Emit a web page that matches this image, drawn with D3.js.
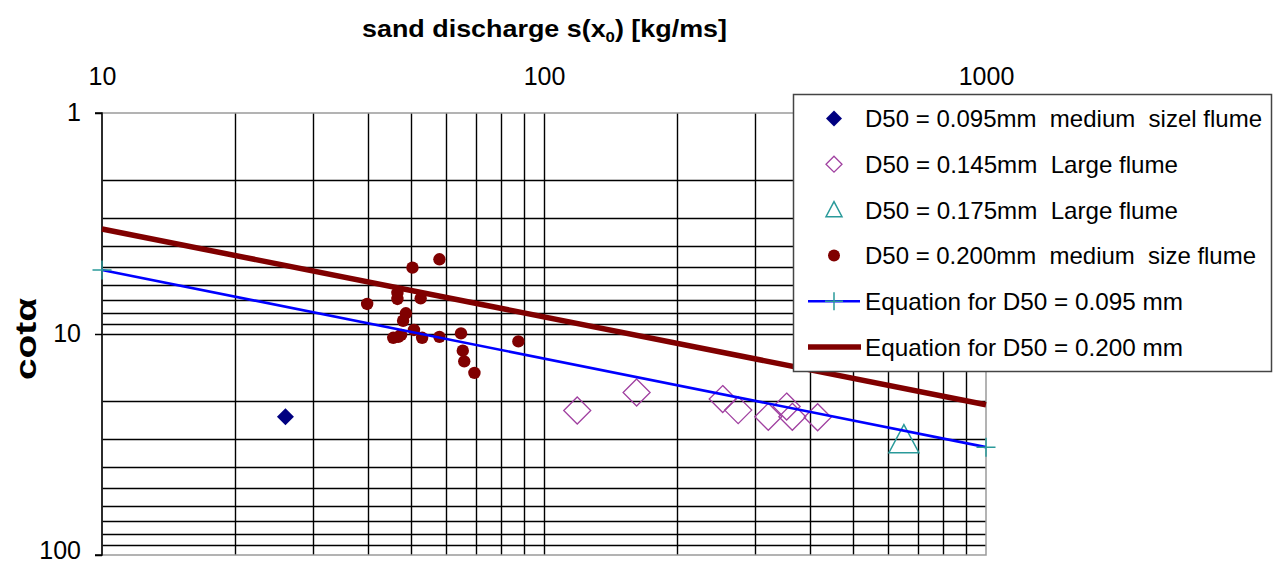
<!DOCTYPE html>
<html>
<head>
<meta charset="utf-8">
<script src="https://cdn.jsdelivr.net/npm/d3@7"></script>
<style>
  html, body { margin: 0; padding: 0; background: #fff; }
  svg { display: block; font-family: "Liberation Sans", Arial, sans-serif; }
</style>
</head>
<body>
<svg id="chart" width="1273" height="566"></svg>
<script>
// Sand discharge s(x0) [kg/ms] vs cot(alpha), log-log
const s095 = [26];
const cot095 = [23.7];

const s145 = [118.9, 162, 253.7, 275, 321.7, 354, 364.6, 416];
const cot145 = [22.2, 18.4, 19.7, 22.1, 23.7, 21.3, 23.7, 23.8];

const s175 = [652];
const cot175 = [30.2];

const s200 = [58.0, 50.4, 46.6, 46.6, 52.6, 39.8, 48.7, 48.0, 45.6, 47.5, 46.8, 50.8, 53.0, 58.0, 64.9, 65.5, 66.0, 69.6, 87.5];
const cot200 = [4.59, 5.01, 6.52, 6.94, 6.90, 7.31, 8.06, 8.71, 10.4, 10.1, 10.3, 9.59, 10.4, 10.3, 9.93, 11.9, 13.3, 15.0, 10.8];

// Equation lines, evaluated at the ends of the discharge range
const eqS = [10, 1000];
const eq095 = [5.13, 32.5];
const eq200 = [3.35, 20.9];

const xTicks = [10, 100, 1000];
const yTicks = [1, 10, 100];

const legendLabels = [
  "D50 = 0.095mm  medium  sizel flume",
  "D50 = 0.145mm  Large flume",
  "D50 = 0.175mm  Large flume",
  "D50 = 0.200mm  medium  size flume",
  "Equation for D50 = 0.095 mm",
  "Equation for D50 = 0.200 mm"
];

const C = {
  navy: "#000080",
  plum: "#A040A0",
  teal: "#2A9A9A",
  maroon: "#800000",
  blue: "#0000FF"
};

const svg = d3.select("#chart");
const L = 102, R = 986, T = 113, B = 555;

const x = d3.scaleLog().domain([10, 1000]).range([L, R]);
const y = d3.scaleLog().domain([1, 100]).range([T, B]);

const zip = (a, b) => a.map((v, i) => [v, b[i]]);

// Grid lines at every 1..9 multiple of each decade
const xGrid = [];
for (let d = 10; d < 1000; d *= 10) for (let k = 1; k <= 9; k++) xGrid.push(d * k);
xGrid.push(1000);
const yGrid = [];
for (let d = 1; d < 100; d *= 10) for (let k = 1; k <= 9; k++) yGrid.push(d * k);
yGrid.push(100);

const grid = svg.append("g");
grid.selectAll("line.v").data(xGrid.filter(v => v > 10 && v < 1000)).join("line")
  .attr("x1", d => Math.round(x(d)) + 0.5).attr("x2", d => Math.round(x(d)) + 0.5)
  .attr("y1", T).attr("y2", B)
  .attr("stroke", "#000").attr("stroke-width", 1.4);
grid.selectAll("line.h").data(yGrid.filter(v => v > 1 && v < 100)).join("line")
  .attr("y1", d => Math.round(y(d)) + 0.5).attr("y2", d => Math.round(y(d)) + 0.5)
  .attr("x1", L).attr("x2", R)
  .attr("stroke", "#000").attr("stroke-width", 1.4);

// Plot area frame (grey) and y axis (black)
svg.append("rect").attr("x", L).attr("y", T).attr("width", R - L).attr("height", B - T)
  .attr("fill", "none").attr("stroke", "#9a9a9a").attr("stroke-width", 1.5);

const yAxis = d3.axisLeft(y).tickValues(yTicks).tickFormat(d3.format("d")).tickSize(7).tickPadding(14);
const gy = svg.append("g").attr("transform", `translate(${L},0)`).call(yAxis);
gy.select(".domain").attr("stroke", "#000").attr("stroke-width", 1.5).attr("d", `M-7,${T}H0V${B}H-7`);
gy.selectAll(".tick line").attr("stroke", "#000").attr("stroke-width", 1.5);
gy.selectAll(".tick text").attr("font-size", 25).attr("fill", "#000")
  .attr("font-family", "Liberation Sans, Arial, sans-serif")
  .attr("dy", d => d === 100 ? "0.14em" : "0.3em");

const xAxis = d3.axisTop(x).tickValues(xTicks).tickFormat(d3.format("d")).tickSize(0).tickPadding(28);
const gx = svg.append("g").attr("transform", `translate(0,${T})`).call(xAxis);
gx.select(".domain").remove();
gx.selectAll(".tick text").attr("font-size", 25).attr("fill", "#000")
  .attr("font-family", "Liberation Sans, Arial, sans-serif");

// Axis titles
const title = svg.append("text").attr("x", 362).attr("y", 37)
  .attr("font-size", 24).attr("font-weight", "bold")
  .attr("textLength", 365).attr("lengthAdjust", "spacingAndGlyphs");
title.append("tspan").text("sand discharge s(x");
title.append("tspan").text("0").attr("font-size", 15).attr("dy", 5);
title.append("tspan").text(") [kg/ms]").attr("dy", -5);

svg.append("text").attr("transform", "translate(36,339) rotate(-90)")
  .attr("text-anchor", "middle").attr("font-size", 29).attr("font-weight", "bold")
  .attr("textLength", 82).attr("lengthAdjust", "spacingAndGlyphs")
  .text("cotα");

// Symbols
const diamond = (cx, cy, h) => `M${cx},${cy - h}L${cx + h},${cy}L${cx},${cy + h}L${cx - h},${cy}Z`;
const triangle = (cx, cy, w, h) => `M${cx},${cy - h * 0.55}L${cx + w / 2},${cy + h * 0.45}L${cx - w / 2},${cy + h * 0.45}Z`;
const plus = (cx, cy, h) => `M${cx - h},${cy}H${cx + h}M${cx},${cy - h}V${cy + h}`;

const marks = svg.append("g");

marks.selectAll("path.s095").data(zip(s095, cot095)).join("path")
  .attr("d", d => diamond(x(d[0]), y(d[1]), 8.5)).attr("fill", C.navy);

marks.selectAll("path.s145").data(zip(s145, cot145)).join("path")
  .attr("d", d => diamond(x(d[0]), y(d[1]), 13.5))
  .attr("fill", "none").attr("stroke", C.plum).attr("stroke-width", 1.3);

marks.selectAll("path.s175").data(zip(s175, cot175)).join("path")
  .attr("d", d => triangle(x(d[0]), y(d[1]), 30, 28))
  .attr("fill", "none").attr("stroke", C.teal).attr("stroke-width", 1.5);

marks.selectAll("circle.s200").data(zip(s200, cot200)).join("circle")
  .attr("cx", d => x(d[0])).attr("cy", d => y(d[1])).attr("r", 6.2).attr("fill", C.maroon);

const line = d3.line().x(d => x(d[0])).y(d => y(d[1]));
marks.append("path").datum(zip(eqS, eq095)).attr("d", line)
  .attr("fill", "none").attr("stroke", C.blue).attr("stroke-width", 2.6);
marks.selectAll("path.p095").data(zip(eqS, eq095)).join("path")
  .attr("d", d => plus(x(d[0]), y(d[1]), 9.5))
  .attr("stroke", C.teal).attr("stroke-width", 1.5);
marks.append("path").datum(zip(eqS, eq200)).attr("d", line)
  .attr("fill", "none").attr("stroke", C.maroon).attr("stroke-width", 5.5);

// Legend
const lg = svg.append("g");
lg.append("rect").attr("x", 793.5).attr("y", 94.5).attr("width", 478).attr("height", 277)
  .attr("fill", "#fff").attr("stroke", "#444").attr("stroke-width", 1.5);

const rowY = i => 118.5 + i * 45.7;
const symX = 834;
const widths = [397, 313, 313, 391, 318, 318];
legendLabels.forEach((t, i) => {
  lg.append("text").attr("x", 865).attr("y", rowY(i)).attr("dy", "0.36em")
    .attr("font-size", 24).attr("textLength", widths[i]).attr("lengthAdjust", "spacingAndGlyphs")
    .attr("xml:space", "preserve")
    .text(t);
});
lg.append("path").attr("d", diamond(symX, rowY(0), 8)).attr("fill", C.navy);
lg.append("path").attr("d", diamond(symX, rowY(1), 8))
  .attr("fill", "none").attr("stroke", C.plum).attr("stroke-width", 1.3);
lg.append("path").attr("d", triangle(symX, rowY(2), 16, 15))
  .attr("fill", "none").attr("stroke", C.teal).attr("stroke-width", 1.5);
lg.append("circle").attr("cx", symX).attr("cy", rowY(3)).attr("r", 6).attr("fill", C.maroon);
lg.append("line").attr("x1", 808).attr("x2", 860).attr("y1", rowY(4)).attr("y2", rowY(4))
  .attr("stroke", C.blue).attr("stroke-width", 2.6);
lg.append("path").attr("d", plus(symX, rowY(4), 9)).attr("stroke", C.teal).attr("stroke-width", 1.5);
lg.append("line").attr("x1", 808).attr("x2", 861).attr("y1", rowY(5)).attr("y2", rowY(5))
  .attr("stroke", C.maroon).attr("stroke-width", 5.5);
</script>
</body>
</html>
